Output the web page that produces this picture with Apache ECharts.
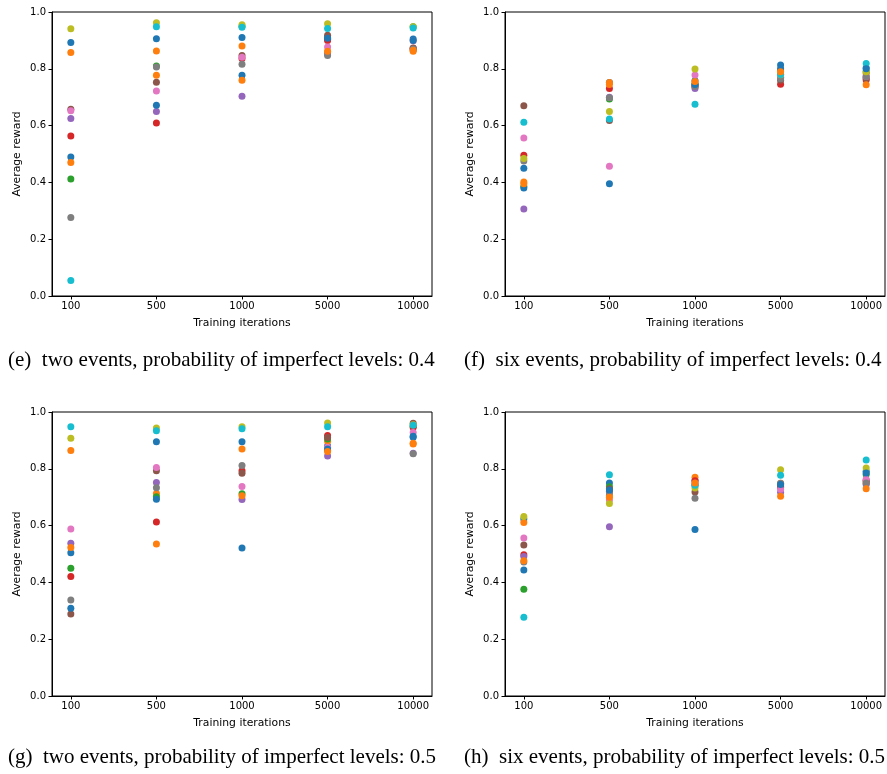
<!DOCTYPE html>
<html>
<head>
<meta charset="utf-8">
<script src="https://cdn.jsdelivr.net/npm/echarts@6/dist/echarts.min.js"></script>
<style>
  html, body { margin: 0; padding: 0; background: #fff; }
  #chart { width: 887px; height: 774px; }
</style>
</head>
<body>
<div id="chart"></div>
<script>
// categories on the x axis
const iterations = ['100', '500', '1000', '5000', '10000'];
const yTicks = [0, 0.2, 0.4, 0.6, 0.8, 1.0];
// matplotlib tab10 cycle, one run per colour (12 runs, so blue/orange repeat)
const palette = ['#1f77b4', '#ff7f0e', '#2ca02c', '#d62728', '#9467bd',
                 '#8c564b', '#e377c2', '#7f7f7f', '#bcbd22', '#17becf'];

// (e) two events, p = 0.4
const runsE = [
  [0.893, 0.906, 0.910, 0.904, 0.905],
  [0.857, 0.863, 0.880, 0.859, 0.862],
  [0.412, 0.810, 0.950, 0.910, 0.948],
  [0.563, 0.609, 0.836, 0.900, 0.872],
  [0.625, 0.650, 0.703, 0.852, 0.868],
  [0.658, 0.753, 0.847, 0.918, 0.873],
  [0.652, 0.722, 0.841, 0.877, 0.899],
  [0.276, 0.806, 0.816, 0.847, 0.870],
  [0.941, 0.962, 0.955, 0.959, 0.948],
  [0.055, 0.948, 0.946, 0.942, 0.944],
  [0.489, 0.672, 0.777, 0.908, 0.900],
  [0.470, 0.777, 0.760, 0.862, 0.865]
];
// (f) six events, p = 0.4
const runsF = [
  [0.450, 0.752, 0.758, 0.813, 0.803],
  [0.401, 0.752, 0.749, 0.796, 0.783],
  [0.386, 0.694, 0.745, 0.780, 0.790],
  [0.496, 0.731, 0.738, 0.746, 0.761],
  [0.306, 0.700, 0.731, 0.770, 0.770],
  [0.670, 0.618, 0.740, 0.760, 0.765],
  [0.556, 0.457, 0.778, 0.770, 0.773],
  [0.475, 0.698, 0.738, 0.765, 0.773],
  [0.484, 0.650, 0.799, 0.779, 0.790],
  [0.612, 0.623, 0.675, 0.780, 0.819],
  [0.380, 0.395, 0.745, 0.800, 0.800],
  [0.395, 0.745, 0.755, 0.790, 0.744]
];
// (g) two events, p = 0.5
const runsG = [
  [0.504, 0.895, 0.895, 0.880, 0.911],
  [0.864, 0.713, 0.870, 0.897, 0.887],
  [0.450, 0.702, 0.712, 0.905, 0.950],
  [0.421, 0.613, 0.793, 0.917, 0.945],
  [0.538, 0.752, 0.692, 0.845, 0.855],
  [0.289, 0.793, 0.784, 0.910, 0.960],
  [0.588, 0.805, 0.738, 0.876, 0.928],
  [0.338, 0.733, 0.812, 0.865, 0.853],
  [0.908, 0.944, 0.948, 0.961, 0.955],
  [0.948, 0.934, 0.941, 0.948, 0.953],
  [0.309, 0.693, 0.521, 0.870, 0.915],
  [0.523, 0.535, 0.705, 0.861, 0.890]
];
// (h) six events, p = 0.5
const runsH = [
  [0.623, 0.750, 0.758, 0.738, 0.791],
  [0.611, 0.705, 0.770, 0.749, 0.749],
  [0.376, 0.737, 0.745, 0.745, 0.780],
  [0.497, 0.720, 0.758, 0.735, 0.760],
  [0.491, 0.596, 0.740, 0.717, 0.745],
  [0.532, 0.730, 0.718, 0.740, 0.755],
  [0.556, 0.690, 0.749, 0.728, 0.763],
  [0.472, 0.715, 0.696, 0.749, 0.750],
  [0.632, 0.678, 0.732, 0.797, 0.803],
  [0.277, 0.779, 0.742, 0.777, 0.831],
  [0.444, 0.725, 0.586, 0.745, 0.785],
  [0.476, 0.700, 0.750, 0.703, 0.730]
];

const captions = [
  '(e)  two events, probability of imperfect levels: 0.4',
  '(f)  six events, probability of imperfect levels: 0.4',
  '(g)  two events, probability of imperfect levels: 0.5',
  '(h)  six events, probability of imperfect levels: 0.5'
];

const panels = [runsE, runsF, runsG, runsH];
// pixel boxes of the four axes
const boxes = [
  { left: 52, top: 12 },
  { left: 505, top: 12 },
  { left: 52, top: 412 },
  { left: 505, top: 412 }
];
const captionPos = [
  { left: 8, top: 350 },
  { left: 464, top: 350 },
  { left: 8, top: 747 },
  { left: 464, top: 747 }
];

const tickFont = { fontFamily: 'DejaVu Sans', fontSize: 10, color: '#000' };
const nameFont = { fontFamily: 'DejaVu Sans', fontSize: 10.8, color: '#000' };
const catIdx = iterations.map((_, i) => i);

const chart = echarts.init(document.getElementById('chart'), null, { renderer: 'canvas' });

const grid = boxes.map(b => ({
  left: b.left, top: b.top, width: 380, height: 284,
  show: true, borderColor: '#000', borderWidth: 1, backgroundColor: '#fff'
}));

const xAxis = boxes.map((b, i) => ({
  type: 'value', gridIndex: i, min: -0.22, max: 4.22,
  name: 'Training iterations', nameLocation: 'middle', nameGap: 22,
  nameTextStyle: nameFont,
  axisLine: { show: true, onZero: false, lineStyle: { color: '#000', width: 1 } },
  axisTick: { show: true, length: 3.5, customValues: catIdx, lineStyle: { color: '#000' } },
  axisLabel: { ...tickFont, margin: 5, customValues: catIdx, formatter: v => iterations[Math.round(v)] },
  splitLine: { show: false }
}));

const yAxis = boxes.map((b, i) => ({
  type: 'value', gridIndex: i, min: 0, max: 1,
  name: 'Average reward', nameLocation: 'middle', nameGap: 29, nameRotate: 90,
  nameTextStyle: nameFont,
  axisLine: { show: true, onZero: false, lineStyle: { color: '#000', width: 1 } },
  axisTick: { show: true, length: 3.5, customValues: yTicks, lineStyle: { color: '#000' } },
  axisLabel: { ...tickFont, margin: 6, customValues: yTicks, formatter: v => v.toFixed(1) },
  splitLine: { show: false }
}));

const series = [];
panels.forEach((runs, p) => {
  runs.forEach((vals, r) => {
    series.push({
      type: 'scatter',
      xAxisIndex: p, yAxisIndex: p,
      symbol: 'circle', symbolSize: 7,
      itemStyle: { color: palette[r % palette.length], opacity: 1 },
      data: vals.map((v, k) => [k, v]).filter(d => d[1] != null),
      silent: true
    });
  });
});

const title = captions.map((t, i) => ({
  text: t, left: captionPos[i].left, top: captionPos[i].top, padding: 0,
  textStyle: { fontFamily: 'Liberation Serif', fontSize: 21, fontWeight: 'normal', color: '#000' }
}));

chart.setOption({
  animation: false,
  backgroundColor: '#fff',
  title,
  grid,
  xAxis,
  yAxis,
  series
});
</script>
</body>
</html>
